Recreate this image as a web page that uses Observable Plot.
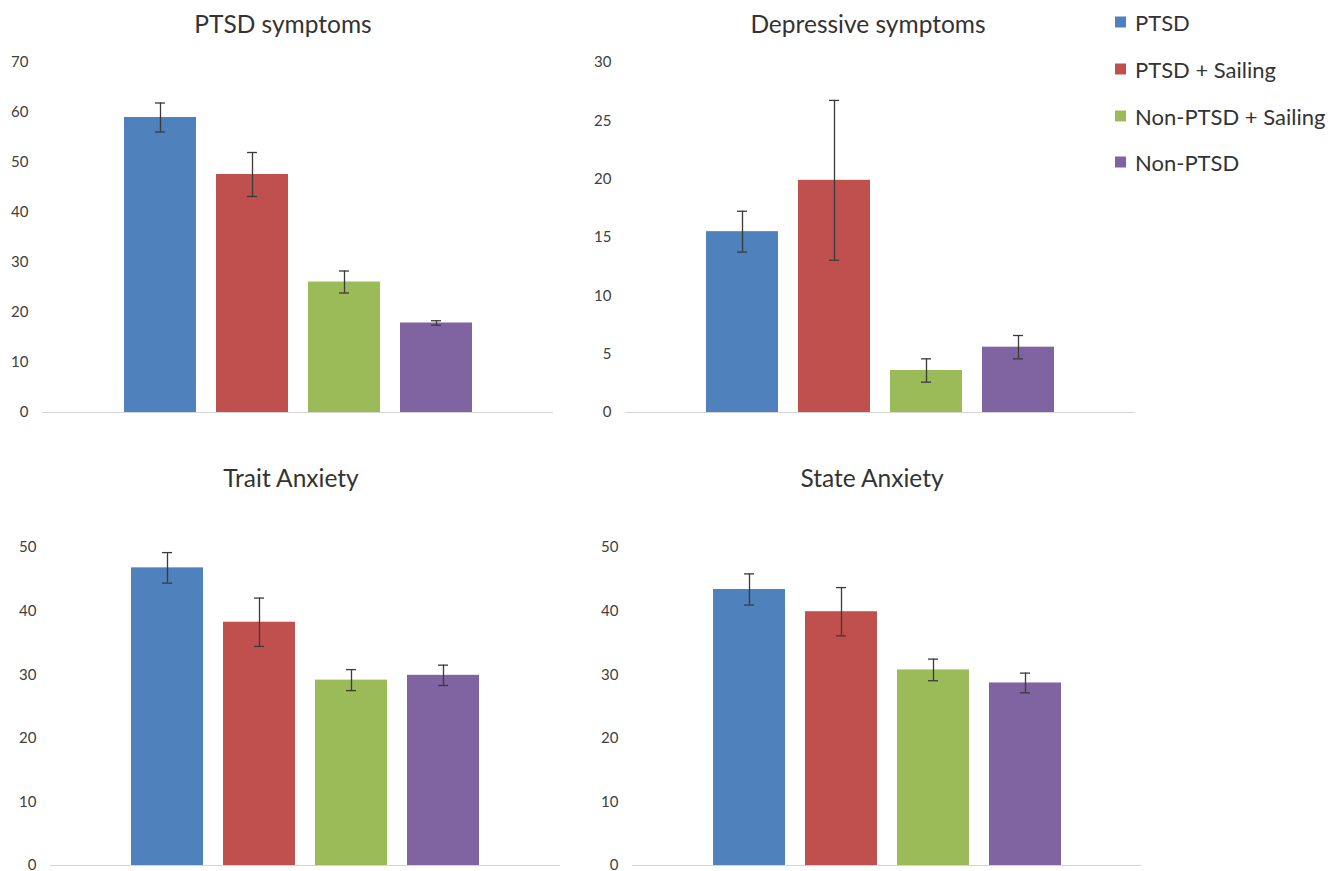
<!DOCTYPE html>
<html><head><meta charset="utf-8">
<script src="https://cdn.jsdelivr.net/npm/d3@7"></script>
<script src="https://cdn.jsdelivr.net/npm/@observablehq/plot@0.6"></script>
<style>
body{margin:0;background:#fff;width:1343px;height:871px;position:relative;overflow:hidden;font-family:Lato,"Open Sans",sans-serif}
.panel{position:absolute}
.title{position:absolute;font-size:24.5px;color:#333;transform:translate(-50%,-50%);white-space:nowrap}
.leg{position:absolute;left:1115px;font-size:22px;color:#333;display:flex;align-items:center;transform:translateY(-50%);white-space:nowrap}
.leg span.sw{display:inline-block;width:11px;height:11px;margin-right:9px}
</style>
</head><body>
<script>
const groups = ["PTSD", "PTSD + Sailing", "Non-PTSD + Sailing", "Non-PTSD"];
const colors = ["#4F81BD", "#C0504D", "#9BBB59", "#8064A2"];

const titles = ["PTSD symptoms", "Depressive symptoms", "Trait Anxiety", "State Anxiety"];

const ptsdMean = [59.0, 47.6, 26.1, 17.9];
const ptsdErr  = [2.9, 4.4, 2.2, 0.45];
const ptsdTicks = [0, 10, 20, 30, 40, 50, 60, 70];

const depMean = [15.5, 19.9, 3.6, 5.6];
const depErr  = [1.75, 6.85, 1.0, 1.0];
const depTicks = [0, 5, 10, 15, 20, 25, 30];

const traitMean = [46.8, 38.25, 29.15, 29.9];
const traitErr  = [2.4, 3.8, 1.65, 1.6];
const traitTicks = [0, 10, 20, 30, 40, 50];

const stateMean = [43.4, 39.9, 30.75, 28.7];
const stateErr  = [2.45, 3.8, 1.7, 1.55];
const stateTicks = [0, 10, 20, 30, 40, 50];

const panels = [
  {mean: ptsdMean, err: ptsdErr, ticks: ptsdTicks, left: 0, top: 40, width: 580, height: 400, mt: 22, mb: 28, ml: 42, mr: 27, tx: 283, ty: 23},
  {mean: depMean, err: depErr, ticks: depTicks, left: 580, top: 40, width: 560, height: 400, mt: 22, mb: 28, ml: 45, mr: 5, tx: 868, ty: 23},
  {mean: traitMean, err: traitErr, ticks: traitTicks, left: 0, top: 500, width: 580, height: 380, mt: 47, mb: 15, ml: 50, mr: 20, tx: 291, ty: 477},
  {mean: stateMean, err: stateErr, ticks: stateTicks, left: 580, top: 500, width: 570, height: 380, mt: 47, mb: 15, ml: 52, mr: 9, tx: 872, ty: 477}
];

panels.forEach((p, i) => {
  const data = groups.map((g, j) => ({group: g, mean: p.mean[j], lo: p.mean[j] - p.err[j], hi: p.mean[j] + p.err[j]}));
  const ymax = p.ticks[p.ticks.length - 1];
  const chart = Plot.plot({
    width: p.width, height: p.height,
    marginTop: p.mt, marginBottom: p.mb, marginLeft: p.ml, marginRight: p.mr,
    style: {fontFamily: "Lato, 'Open Sans', sans-serif", fontSize: "15px", color: "#404040", background: "transparent", overflow: "visible"},
    x: {type: "band", domain: groups, paddingInner: 0.22, paddingOuter: 0.872, axis: null},
    y: {domain: [0, ymax], axis: null},
    color: {domain: groups, range: colors},
    marks: [
      Plot.axisY({ticks: p.ticks, tickSize: 0, tickPadding: 14, fontSize: 15, tickFormat: d => String(d)}),
      Plot.barY(data, {x: "group", y: "mean", fill: "group"}),
      Plot.ruleY([0], {stroke: "#d4d4d4", strokeWidth: 1.2}),
      Plot.ruleX(data, {x: "group", y1: "lo", y2: "hi", stroke: "#3a3a3a", strokeWidth: 1.3}),
      Plot.tickY(data, {x: "group", y: "lo", insetLeft: 31, insetRight: 31, stroke: "#3a3a3a", strokeWidth: 1.3}),
      Plot.tickY(data, {x: "group", y: "hi", insetLeft: 31, insetRight: 31, stroke: "#3a3a3a", strokeWidth: 1.3})
    ]
  });
  const div = document.createElement("div");
  div.className = "panel";
  div.style.left = p.left + "px";
  div.style.top = p.top + "px";
  div.appendChild(chart);
  document.body.appendChild(div);
  const t = document.createElement("div");
  t.className = "title";
  t.style.left = p.tx + "px";
  t.style.top = p.ty + "px";
  t.textContent = titles[i];
  document.body.appendChild(t);
});

const legY = [22, 69, 116, 162];
groups.forEach((g, i) => {
  const d = document.createElement("div");
  d.className = "leg";
  d.style.top = legY[i] + "px";
  const sw = document.createElement("span");
  sw.className = "sw";
  sw.style.background = colors[i];
  d.appendChild(sw);
  d.appendChild(document.createTextNode(g));
  document.body.appendChild(d);
});
</script>
</body></html>
